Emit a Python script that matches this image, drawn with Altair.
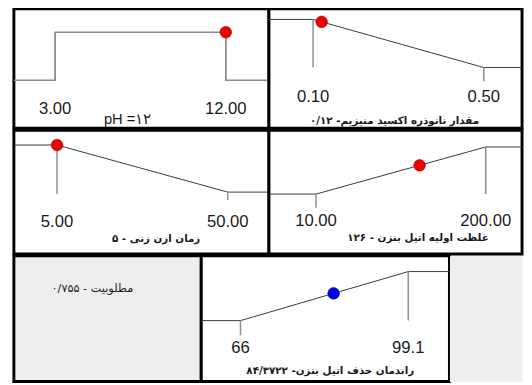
import altair as alt
import pandas as pd

# ---- data ----
titles = ["pH =۱۲",
          "مقدار نانوذره اکسید منیزیم- ۰/۱۲",
          "زمان ازن زنی - ۵",
          "غلظت اولیه اتیل بنزن - ۱۲۶",
          "راندمان حذف اتیل بنزن- ۸۴/۳۷۲۲"]
lows = [3.0, 0.10, 5.0, 10.0, 66.0]
highs = [12.0, 0.50, 50.0, 200.0, 99.1]
low_labels = ["3.00", "0.10", "5.00", "10.00", "66"]
high_labels = ["12.00", "0.50", "50.00", "200.00", "99.1"]
current = [12.0, 0.12, 5.0, 126.0, 84.3722]
current_d = [1.0, 0.95, 1.0, 0.61, 0.555]
dot_colors = ["#ee0000", "#ee0000", "#ee0000", "#ee0000", "#0000e6"]
# desirability shape (x, d) per panel; the outer points run past the frame
curve_x = [[-100, 3, 3, 12, 12, 100],
           [-10, 0.10, 0.50, 10],
           [-1000, 5, 50, 1000],
           [-1000, 10, 200, 1000],
           [-1000, 66, 99.1, 1000]]
curve_d = [[0, 0, 1, 1, 0, 0],
           [1, 1, 0, 0],
           [1, 1, 0, 0],
           [0, 0, 1, 1],
           [0, 0, 1, 1]]
limit_d_low = [1, 1, 1, 0, 0]
limit_d_high = [1, 0, 0, 1, 1]
desirability_text = "مطلوبیت - ۰/۷۵۵"

# ---- layout (pixels) ----
# W, H, px of low, px of high, px of d=1, px of d=0, label px, title px, title dx, stem low, stem high
layout = [
    (260, 122, 42, 216, 24, 73, 102, 113, -14, 0, 0),
    (258, 122, 45, 219, 11, 60, 90, 115, -1, 0, 14),
    (260, 126, 44, 218, 15, 63, 94, 111, 15, 2, 8),
    (258, 126, 48, 221, 17, 65, 93, 110, 23, 14, 0),
    (253, 128, 40, 211, 16, 66, 94, 117, 5, 15, 0),
]

label_font = "Liberation Sans"
fa_font = "DejaVu Sans"


def panel(i):
    W, H, xl, xh, r1, r0, rl, rt, tdx, stem_lo, stem_hi = layout[i]
    lo, hi = lows[i], highs[i]
    s = (xh - xl) / (hi - lo)
    xdom = [lo - xl / s, lo + (W - xl) / s]
    k = r0 - r1
    ydom = [(r0 - H) / k, r0 / k]
    xs = alt.Scale(domain=xdom, nice=False, zero=False)
    ys = alt.Scale(domain=ydom, nice=False, zero=False)

    curve = pd.DataFrame({"x": curve_x[i], "d": curve_d[i],
                          "o": list(range(len(curve_x[i])))})
    rules = pd.DataFrame({
        "x": [lo, hi],
        "d": [limit_d_low[i], limit_d_high[i]],
        "d2": [min(limit_d_low[i], 0) - stem_lo / k,
               min(limit_d_high[i], 0) - stem_hi / k],
    })
    labels = pd.DataFrame({"x": [lo, hi], "t": [low_labels[i], high_labels[i]],
                           "d": [0, 0]})
    dot = pd.DataFrame({"x": [current[i]], "d": [current_d[i]]})
    title = pd.DataFrame({"t": [titles[i]]})

    line_color = "#8a8a8a" if i == 0 else "#3a3a3a"
    line_w = 1.5 if i == 0 else 1

    X = alt.X("x:Q", scale=xs, axis=None)
    Y = alt.Y("d:Q", scale=ys, axis=None)

    base_rules = alt.Chart(rules).mark_rule(color="#8f8f8f", strokeWidth=1.5).encode(
        x=X, y=Y, y2="d2:Q",
    )
    line = alt.Chart(curve).mark_line(color=line_color, strokeWidth=line_w, clip=True).encode(
        x=X, y=Y, order="o:Q",
    )
    lab = alt.Chart(labels).mark_text(
        font=label_font, fontSize=17, color="#1a1a1a", baseline="middle",
        dy=rl - r0,
    ).encode(x=X, y=Y, text="t:N")
    if i == 0:
        tmark = alt.Chart(title).mark_text(font=label_font, fontSize=15, color="#1a1a1a",
                                           baseline="middle", dx=tdx)
    else:
        tmark = alt.Chart(title).mark_text(font=fa_font, fontSize=10.5, fontWeight="bold",
                                           color="#1a1a1a", baseline="middle", dx=tdx)
    tit = tmark.encode(x=alt.value(W / 2), y=alt.value(rt), text="t:N")
    pt = alt.Chart(dot).mark_circle(size=140, opacity=1, color=dot_colors[i],
                                    stroke="#8a0000" if i < 4 else "#00008a",
                                    strokeWidth=0.6).encode(x=X, y=Y)
    return alt.layer(line, base_rules, lab, tit, pt).properties(
        width=W, height=H,
        view=alt.ViewBackground(stroke="black", strokeWidth=3, fill="white"),
    )


p = [panel(i) for i in range(5)]

gray_left = alt.Chart(pd.DataFrame({"t": [desirability_text]})).mark_text(
    font=fa_font, fontSize=11.5, color="#1a1a1a", baseline="middle"
).encode(x=alt.value(80), y=alt.value(34), text="t:N").properties(
    width=191, height=128,
    view=alt.ViewBackground(stroke="black", strokeWidth=3, fill="#eeeeee"),
)
gray_right = alt.Chart(pd.DataFrame({"t": [""]})).mark_text(
    opacity=0, baseline="middle", fontSize=4
).encode(
    x=alt.value(30), y=alt.value(60), text="t:N"
).properties(
    width=74, height=128,
    view=alt.ViewBackground(stroke="transparent", fill="#eeeeee"),
)

row1 = alt.hconcat(p[0], p[1], spacing=0, bounds="flush")
row2 = alt.hconcat(p[2], p[3], spacing=0, bounds="flush")
row3 = alt.hconcat(gray_left, p[4], gray_right, spacing=0, bounds="flush")

chart = alt.vconcat(row1, row2, row3, spacing=-3).properties(
    padding={"left": 4, "top": -5, "right": 0, "bottom": 0},
    background="white",
)

chart.save("out.html", embed_options={"renderer": "svg", "actions": False})
